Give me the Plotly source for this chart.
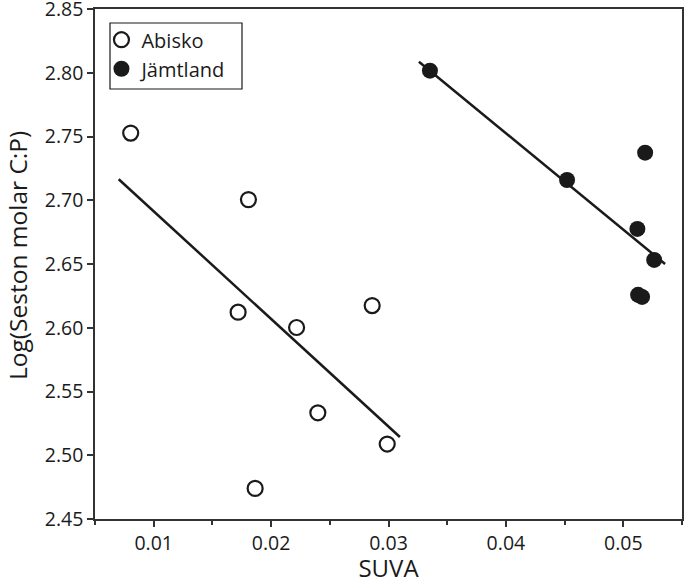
import plotly.graph_objects as go

# Abisko (open circles)
abisko_suva = [0.00804, 0.01807, 0.01719, 0.02217, 0.02861, 0.02398, 0.02989, 0.01864]
abisko_cp = [2.7527, 2.7005, 2.6122, 2.6002, 2.6174, 2.5333, 2.5088, 2.4740]
abisko_fit_x = [0.00702, 0.03097]
abisko_fit_y = [2.7165, 2.5143]

# Jämtland (filled circles)
jamt_suva = [0.03353, 0.04521, 0.05186, 0.05120, 0.05263, 0.05126, 0.05160]
jamt_cp = [2.8016, 2.7159, 2.7373, 2.6775, 2.6532, 2.6258, 2.6242]
jamt_fit_x = [0.03259, 0.05356]
jamt_fit_y = [2.8086, 2.6500]

x_ticks = [0.01, 0.02, 0.03, 0.04, 0.05]
y_ticks = [2.45, 2.50, 2.55, 2.60, 2.65, 2.70, 2.75, 2.80, 2.85]

ink = "#1a1a1a"
axis_col = "#333333"
font_family = "Open Sans"

fig = go.Figure()
fig.add_trace(go.Scatter(x=abisko_fit_x, y=abisko_fit_y, mode="lines",
                         line=dict(color=ink, width=2.5), showlegend=False, hoverinfo="skip"))
fig.add_trace(go.Scatter(x=jamt_fit_x, y=jamt_fit_y, mode="lines",
                         line=dict(color=ink, width=2.5), showlegend=False, hoverinfo="skip"))
fig.add_trace(go.Scatter(x=abisko_suva, y=abisko_cp, mode="markers", name="Abisko",
                         marker=dict(symbol="circle-open", size=15, color=ink,
                                     line=dict(width=2.2, color=ink))))
fig.add_trace(go.Scatter(x=jamt_suva, y=jamt_cp, mode="markers", name="Jämtland",
                         marker=dict(symbol="circle", size=16, color=ink,
                                     line=dict(width=0))))

fig.update_layout(
    width=685, height=584,
    margin=dict(l=95, r=3, t=9, b=65),
    plot_bgcolor="white", paper_bgcolor="white",
    font=dict(family=font_family, color=ink, size=19),
    legend=dict(x=0.011, y=0.978, xanchor="left", yanchor="top",
                borderwidth=0, bgcolor="rgba(0,0,0,0)",
                font=dict(size=20, family=font_family, color=ink),
                itemsizing="trace", itemwidth=30, tracegroupgap=0),
    shapes=[dict(type="rect", xref="paper", yref="paper",
                 x0=(110 - 95) / 587, x1=(242 - 95) / 587,
                 y0=(519 - 89) / 510, y1=(519 - 23) / 510,
                 line=dict(color=ink, width=1.2), fillcolor="rgba(0,0,0,0)", layer="below")],
    xaxis=dict(range=[0.005, 0.055], tickvals=x_ticks, ticktext=[f"{v:.2f}" for v in x_ticks],
               showgrid=False, zeroline=False, showline=True, linecolor=axis_col, linewidth=1.5,
               mirror=True, ticks="outside", ticklen=6, tickcolor=axis_col, tickwidth=1.5,
               minor=dict(dtick=0.005, tick0=0.005, ticks="outside", ticklen=4,
                          tickcolor=axis_col, tickwidth=1.5),
               tickfont=dict(size=19.5), automargin=False, ticklabeloverflow="allow",
               title=dict(text="SUVA", font=dict(size=24), standoff=9)),
    yaxis=dict(range=[2.45, 2.85], tickvals=y_ticks, ticktext=[f"{v:.2f}" for v in y_ticks],
               showgrid=False, zeroline=False, showline=True, linecolor=axis_col, linewidth=1.5,
               mirror=True, ticks="outside", ticklen=6, tickcolor=axis_col, tickwidth=1.5,
               tickfont=dict(size=19.5), automargin=False, ticklabeloverflow="allow"),
    annotations=[dict(text="Log(Seston molar C:P)", textangle=-90, xref="paper", yref="paper",
                      x=-(95 - 17) / 587, y=0.5, yshift=8, xanchor="center", yanchor="middle",
                      showarrow=False, font=dict(size=24.5, family=font_family, color=ink))],
)

fig.write_html("out.html", config={"displayModeBar": False},
               post_script="document.body.style.margin='0';document.body.style.overflow='hidden';")
